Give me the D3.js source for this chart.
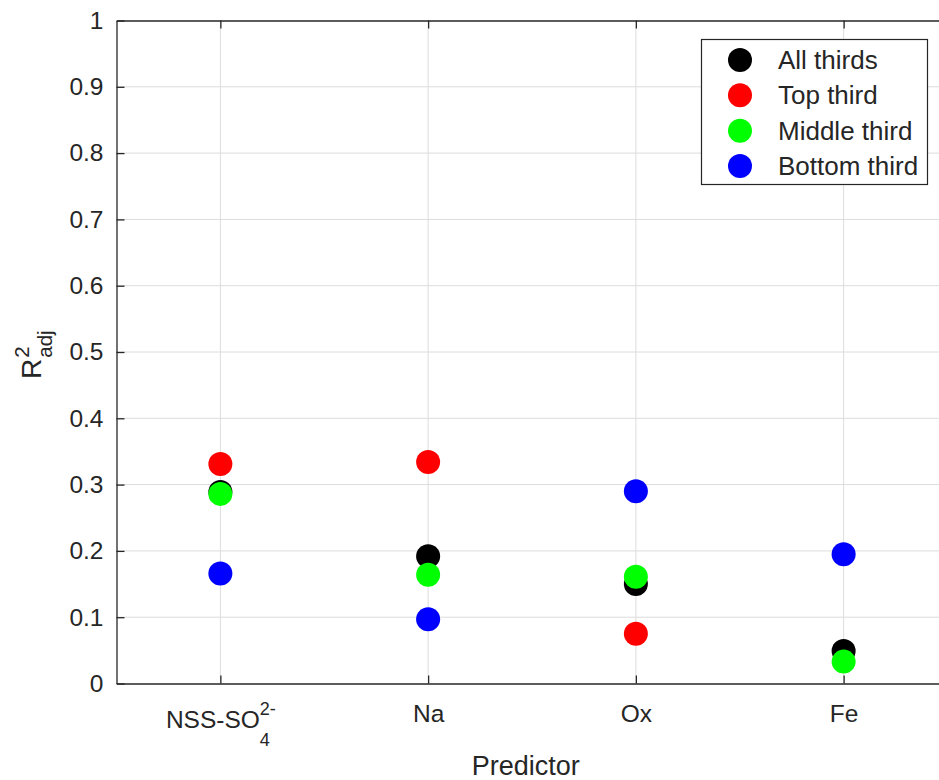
<!DOCTYPE html>
<html>
<head>
<meta charset="utf-8">
<script src="https://cdn.jsdelivr.net/npm/d3@7"></script>
<style>
  html, body { margin: 0; padding: 0; background: #fff; }
  svg { display: block; }
  text { font-family: "Liberation Sans", Arial, Helvetica, sans-serif; fill: #262626; }
</style>
</head>
<body>
<svg id="chart" width="939" height="780"></svg>
<script>
// ---- data ----
const categories = ["NSS-SO4", "Na", "Ox", "Fe"];
const seriesNames = ["All thirds", "Top third", "Middle third", "Bottom third"];
const seriesColors = ["#000000", "#ff0000", "#00ff00", "#0000ff"];
const allThirds    = [0.289, 0.192, 0.150, 0.049];
const topThird     = [0.331, 0.334, 0.075, null];
const middleThird  = [0.286, 0.164, 0.161, 0.033];
const bottomThird  = [0.166, 0.097, 0.290, 0.195];
const yTicks = [0, 0.1, 0.2, 0.3, 0.4, 0.5, 0.6, 0.7, 0.8, 0.9, 1];
const yTickLabels = ["0", "0.1", "0.2", "0.3", "0.4", "0.5", "0.6", "0.7", "0.8", "0.9", "1"];
const xLabel = "Predictor";

const seriesValues = [allThirds, topThird, middleThird, bottomThird];

// ---- layout ----
const svg = d3.select("#chart");
const pLeft = 116.5, pTop = 20.5, pBottom = 683.5;
const pRight = 947.5; // box extends past the cropped image edge
const axisColor = "#262626";

const x = d3.scaleLinear().domain([0.5, 4.5]).range([pLeft, pRight]);
const y = d3.scaleLinear().domain([0, 1]).range([pBottom, pTop]);
const catIdx = categories.map((d, i) => i + 1);

// grid
const grid = svg.append("g");
grid.selectAll("line.h").data(yTicks.slice(1, -1)).join("line")
  .attr("x1", pLeft).attr("x2", pRight)
  .attr("y1", d => y(d)).attr("y2", d => y(d))
  .attr("stroke", "#dcdcdc").attr("stroke-width", 1);
grid.selectAll("line.v").data(catIdx).join("line")
  .attr("x1", d => x(d)).attr("x2", d => x(d))
  .attr("y1", pTop).attr("y2", pBottom)
  .attr("stroke", "#dcdcdc").attr("stroke-width", 1);

// axes
function styleAxis(g) {
  g.select(".domain").attr("stroke", axisColor).attr("stroke-width", 1.3);
  g.selectAll(".tick line").attr("stroke", axisColor).attr("stroke-width", 1.3);
}
const yAxis = d3.axisLeft(y).tickValues(yTicks)
  .tickFormat((d, i) => yTickLabels[i]).tickSizeInner(-8).tickSizeOuter(0).tickPadding(13);
const gy = svg.append("g").attr("transform", `translate(${pLeft},0)`).call(yAxis);
styleAxis(gy);
gy.selectAll(".tick text").style("font-size", "24.5px").attr("fill", axisColor);

const yAxisR = d3.axisRight(y).tickValues(yTicks).tickFormat("").tickSizeInner(-8).tickSizeOuter(0);
const gyr = svg.append("g").attr("transform", `translate(${pRight},0)`).call(yAxisR);
styleAxis(gyr);

const xAxis = d3.axisBottom(x).tickValues(catIdx).tickFormat("").tickSizeInner(-8).tickSizeOuter(0);
const gx = svg.append("g").attr("transform", `translate(0,${pBottom})`).call(xAxis);
styleAxis(gx);

const xAxisT = d3.axisTop(x).tickValues(catIdx).tickFormat("").tickSizeInner(-8).tickSizeOuter(0);
const gxt = svg.append("g").attr("transform", `translate(0,${pTop})`).call(xAxisT);
styleAxis(gxt);

// x tick labels
gx.selectAll(".tick").each(function(d, i) {
  const g = d3.select(this);
  g.select("text").remove();
  if (i === 0) {
    const lab = g.append("g").attr("text-anchor", "start");
    const main = lab.append("text").attr("text-anchor", "start").attr("y", 728 - pBottom)
      .style("font-size", "24.5px").text("NSS-SO");
    const w1 = main.node().getComputedTextLength();
    const sup = lab.append("text").attr("text-anchor", "start").attr("y", 715 - pBottom)
      .style("font-size", "18px").text("2-");
    const sub = lab.append("text").attr("text-anchor", "start").attr("y", 746 - pBottom)
      .style("font-size", "18px").text("4");
    const w2 = Math.max(sup.node().getComputedTextLength(), sub.node().getComputedTextLength());
    const x0 = -(w1 + w2) / 2;
    main.attr("x", x0);
    sup.attr("x", x0 + w1);
    sub.attr("x", x0 + w1);
  } else {
    g.append("text").attr("y", 722 - pBottom).attr("text-anchor", "middle")
      .style("font-size", "24.5px").text(categories[i]);
  }
});

// x label
svg.append("text").attr("x", (pLeft + 939) / 2 - 2).attr("y", 775)
  .attr("text-anchor", "middle").style("font-size", "27px").text(xLabel);

// y label R^2_adj
const yl = svg.append("g").attr("transform", `translate(41,379) rotate(-90)`);
const rT = yl.append("text").attr("x", 0).attr("y", 0).style("font-size", "28px").text("R");
const rw = rT.node().getComputedTextLength();
yl.append("text").attr("x", rw + 1).attr("y", -12).style("font-size", "20.5px").text("2");
yl.append("text").attr("x", rw + 1).attr("y", 11).style("font-size", "20.5px").text("adj");

// points (draw black first, then red, green, blue)
const pts = svg.append("g");
seriesValues.forEach((vals, s) => {
  pts.selectAll(null)
    .data(vals.map((v, i) => ({ v, i })).filter(d => d.v !== null))
    .join("circle")
    .attr("cx", d => x(catIdx[d.i]))
    .attr("cy", d => y(d.v))
    .attr("r", 12)
    .attr("fill", seriesColors[s]);
});

// legend
const lg = svg.append("g");
lg.append("rect").attr("x", 701.5).attr("y", 39.5).attr("width", 226).attr("height", 145)
  .attr("fill", "#fff").attr("stroke", axisColor).attr("stroke-width", 1.2);
const rowY = d3.scaleLinear().domain([0, 3]).range([60, 166]);
seriesNames.forEach((name, i) => {
  lg.append("circle").attr("cx", 740).attr("cy", rowY(i)).attr("r", 12).attr("fill", seriesColors[i]);
  lg.append("text").attr("x", 778).attr("y", rowY(i)).attr("dy", "0.35em")
    .style("font-size", "26px").text(name);
});
</script>
</body>
</html>
